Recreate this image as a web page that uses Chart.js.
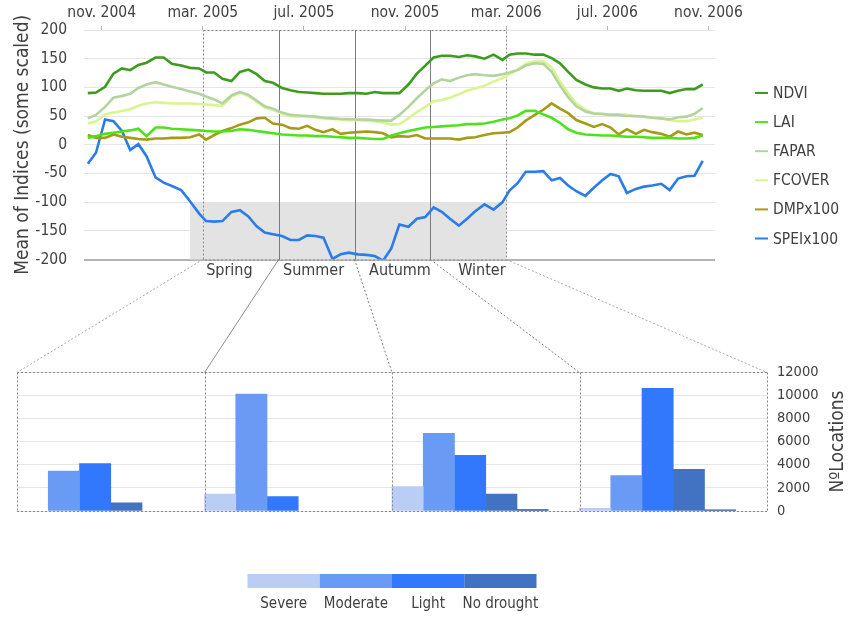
<!DOCTYPE html>
<html>
<head>
<meta charset="utf-8">
<script src="https://cdn.jsdelivr.net/npm/chart.js@4.4.1/dist/chart.umd.min.js"></script>
<style>
  html, body { margin: 0; padding: 0; background: #ffffff; }
  #wrap { position: relative; width: 861px; height: 619px; overflow: hidden; }
  #indices { position: absolute; left: 0; top: 0; }
  #locations { position: absolute; left: 0; top: 259px; }
</style>
</head>
<body>
<div id="wrap">
  <canvas id="indices" width="861" height="290"></canvas>
  <canvas id="locations" width="861" height="360"></canvas>
</div>
<script>
// ---------- data ----------
const FONT = "'DejaVu Sans Condensed', 'DejaVu Sans', sans-serif";

// Dekadal observations (5th, 15th and 25th of each month), Oct 2004 - Oct 2006
const dekadDates = [];
for (let y = 2004, m = 10; y < 2006 || (y === 2006 && m <= 10); m === 12 ? (y++, m = 1) : m++) {
  for (const d of [5, 15, 25]) {
    if (y === 2004 && m === 10 && d === 5) continue;
    dekadDates.push([y, m, d]);
  }
}
// months elapsed since 1 Nov 2004
function monthOffset(y, m, d) {
  const days = new Date(y, m, 0).getDate();
  return (y - 2004) * 12 + (m - 11) + (d - 1) / days;
}
const xMonths = dekadDates.map(([y, m, d]) => monthOffset(y, m, d));

const ndvi = [90, 91, 101, 124, 133, 130, 139, 143, 152, 152, 141, 138, 134, 133, 126, 126, 115, 111,
  127, 131, 123, 111, 108, 99, 95, 92, 91, 90, 89, 89, 89, 90, 90, 89, 92, 90,
  90, 90, 105, 124, 138, 152, 155, 155, 153, 156, 154, 150, 157, 148, 157, 159, 159, 157, 157, 151,
  142, 127, 113, 105, 100, 98, 98, 94, 98, 95, 94, 94, 94, 90, 94, 97, 97, 105];
const lai = [12, 15, 19, 21, 23, 25, 28, 15, 30, 30, 28, 27, 26, 25, 24, 23, 23, 24,
  27, 26, 24, 22, 20, 18, 17, 16, 16, 15, 15, 14, 13, 12, 12, 11, 10, 10,
  16, 20, 24, 27, 30, 31, 32, 33, 34, 36, 36, 37, 40, 44, 46, 51, 59, 59, 53, 47,
  38, 27, 21, 18, 17, 16, 16, 15, 14, 14, 13, 12, 12, 12, 11, 11, 12, 16];
const fapar = [46, 52, 66, 82, 85, 89, 99, 105, 109, 105, 101, 97, 93, 89, 84, 79, 72, 86,
  92, 87, 77, 67, 63, 56, 52, 51, 50, 49, 47, 46, 45, 45, 44, 44, 43, 42,
  42, 52, 66, 81, 95, 107, 114, 111, 117, 121, 123, 121, 120, 123, 126, 130, 138, 142, 141, 127,
  103, 83, 67, 58, 54, 54, 52, 52, 50, 50, 49, 47, 46, 44, 48, 49, 54, 64];
const fcover = [37, 41, 53, 56, 59, 62, 68, 72, 74, 73, 72, 72, 72, 71, 70, 69, 68, 84,
  91, 85, 75, 65, 61, 54, 50, 49, 49, 48, 46, 45, 44, 43, 43, 42, 41, 39,
  35, 36, 46, 57, 66, 76, 78, 82, 88, 94, 98, 103, 110, 116, 123, 131, 141, 146, 146, 135,
  110, 90, 72, 61, 55, 53, 53, 53, 52, 49, 49, 47, 46, 43, 41, 41, 44, 47];
const dmp = [17, 12, 12, 18, 14, 12, 10, 9, 11, 11, 12, 12, 13, 18, 9, 17, 24, 29,
  35, 39, 46, 47, 37, 35, 29, 28, 33, 26, 22, 27, 19, 21, 22, 23, 22, 20,
  13, 15, 14, 17, 11, 11, 11, 11, 9, 12, 13, 17, 20, 21, 22, 30, 42, 52, 61, 72,
  63, 55, 43, 37, 31, 36, 30, 18, 27, 19, 26, 22, 19, 14, 23, 18, 21, 17];
const spei = [-33, -14, 44, 41, 24, -9, 1, -20, -57, -66, -72, -79, -99, -120, -133, -134, -133, -117,
  -114, -125, -142, -153, -156, -159, -166, -166, -158, -159, -162, -199, -191, -188, -191, -192, -194, -202,
  -181, -139, -143, -129, -126, -109, -117, -129, -141, -129, -116, -104, -113, -100, -80, -67, -47, -47, -46, -62,
  -58, -71, -81, -89, -75, -62, -51, -55, -84, -77, -73, -71, -68, -79, -59, -55, -54, -28];

const seriesNames = ['NDVI', 'LAI', 'FAPAR', 'FCOVER', 'DMPx100', 'SPEIx100'];
const seriesValues = [ndvi, lai, fapar, fcover, dmp, spei];
const seriesColors = ['#3f9b1f', '#4fe21c', '#b3d39f', '#d9f58f', '#a69b16', '#2a7de8'];

const tickMonths = [0, 4, 8, 12, 16, 20, 24];
const tickLabels = ['nov. 2004', 'mar. 2005', 'jul. 2005', 'nov. 2005', 'mar. 2006', 'jul. 2006', 'nov. 2006'];

// Seasons of the drought year (month offsets: 1 Mar 2005 ... 1 Mar 2006)
const seasons = ['Spring', 'Summer', 'Autumm', 'Winter'];
const seasonBounds = [4, 7, 10, 13, 16];
// Drought band highlighted on the SPEI axis
const droughtBand = { from: 3.5, to: 16, top: -100, bottom: -200 };

// Number of locations per drought class and season (0 = no locations)
const droughtClasses = ['Severe', 'Moderate', 'Light', 'No drought'];
const severe    = [0,    1450,  2100, 230];
const moderate  = [3450, 10100, 6700, 3050];
const light     = [4100, 1250,  4800, 10600];
const noDrought = [700,  0,     1450, 3600];
const wet       = [0,    0,     120,  110];
const classColors = ['#b9cdf5', '#699bf5', '#3278fd', '#4272c2'];

// ---------- layout / style ----------
const SEASON_LABEL_POS = [0.35, 0.46, 0.6, 0.68];
const TEXT = '#404040';

// ---------- upper chart: indices ----------
const indicesDecor = {
  id: 'indicesDecor',
  beforeDatasetsDraw(chart) {
    const { ctx, chartArea: a, scales: { x, y } } = chart;
    ctx.save();
    // shaded drought band
    ctx.fillStyle = '#e3e3e3';
    const bx0 = x.getPixelForValue(droughtBand.from), bx1 = x.getPixelForValue(droughtBand.to);
    const by0 = y.getPixelForValue(droughtBand.top), by1 = y.getPixelForValue(droughtBand.bottom);
    ctx.fillRect(bx0, by0, bx1 - bx0, by1 - by0);
    // season separators
    ctx.strokeStyle = '#7a7a7a';
    ctx.lineWidth = 1;
    for (const b of seasonBounds.slice(1, -1)) {
      const px = Math.round(x.getPixelForValue(b)) + 0.5;
      ctx.beginPath(); ctx.moveTo(px, a.top); ctx.lineTo(px, a.bottom + 1); ctx.stroke();
    }
    // dotted frame around the drought year
    ctx.setLineDash([2, 2]);
    ctx.strokeStyle = '#8a8a8a';
    const fx0 = Math.round(x.getPixelForValue(seasonBounds[0])) + 0.5;
    const fx1 = Math.round(x.getPixelForValue(seasonBounds[seasonBounds.length - 1])) + 0.5;
    ctx.strokeRect(fx0, Math.round(a.top) + 0.5, fx1 - fx0, Math.round(a.bottom - a.top) - 0.5);
    ctx.restore();
  },
  afterDraw(chart) {
    const { ctx, chartArea: a, scales: { x } } = chart;
    ctx.save();
    ctx.font = '16px ' + FONT;
    ctx.fillStyle = TEXT;
    ctx.textAlign = 'center';
    ctx.textBaseline = 'middle';
    seasons.forEach((s, i) => {
      const x0 = x.getPixelForValue(seasonBounds[i]), x1 = x.getPixelForValue(seasonBounds[i + 1]);
      ctx.fillText(s, x0 + (x1 - x0) * SEASON_LABEL_POS[i], a.bottom + 11);
    });
    // legend
    ctx.font = '15.5px ' + FONT;
    ctx.textAlign = 'left';
    chart.data.datasets.forEach((ds, i) => {
      const ly = a.top + 63 + i * 29.1;
      ctx.strokeStyle = ds.borderColor;
      ctx.lineWidth = 2;
      ctx.beginPath(); ctx.moveTo(a.right + 40, ly); ctx.lineTo(a.right + 53, ly); ctx.stroke();
      ctx.fillStyle = TEXT;
      ctx.fillText(ds.label, a.right + 58, ly + 1);
    });
    ctx.restore();
  }
};

const indicesChart = new Chart(document.getElementById('indices'), {
  type: 'line',
  data: {
    datasets: seriesNames.map((name, k) => ({
      label: name,
      data: seriesValues[k].map((v, i) => ({ x: xMonths[i], y: v })),
      borderColor: seriesColors[k],
      borderWidth: 2.6,
      pointRadius: 0,
      tension: 0,
      fill: false
    }))
  },
  options: {
    responsive: false,
    animation: false,
    layout: { padding: { right: 146, bottom: 30.5 } },
    plugins: { legend: { display: false }, tooltip: { enabled: false } },
    scales: {
      x: {
        type: 'linear',
        position: 'top',
        min: -0.70,
        max: 24.26,
        afterBuildTicks: s => { s.ticks = tickMonths.map(v => ({ value: v })); },
        afterFit: s => { s.height = 30; },
        ticks: {
          autoSkip: false, maxRotation: 0, padding: 4,
          callback: v => tickLabels[tickMonths.indexOf(v)],
          font: { family: FONT, size: 15.5 }, color: TEXT
        },
        grid: { drawOnChartArea: false, drawTicks: true, tickLength: 4, color: '#b5b5b5' },
        border: { display: false }
      },
      y: {
        min: -200,
        max: 200,
        afterFit: s => { s.width = 84; },
        ticks: { stepSize: 50, padding: 17, font: { family: FONT, size: 15.5 }, color: TEXT },
        grid: {
          drawTicks: false,
          color: c => c.tick.value === -200 ? '#b3b3b3' : '#e4e4e4',
          lineWidth: c => c.tick.value === -200 ? 2 : 1
        },
        border: { display: false },
        title: {
          display: true, text: 'Mean of Indices (some scaled)',
          font: { family: FONT, size: 19 }, color: TEXT, padding: { top: 12, bottom: 0 }
        }
      }
    }
  },
  plugins: [indicesDecor]
});

// ---------- lower chart: locations per drought class ----------
const locationsDecor = {
  id: 'locationsDecor',
  afterDraw(chart) {
    const { ctx, chartArea: a, scales: { x, y } } = chart;
    const step = x.getPixelForValue(1) - x.getPixelForValue(0);
    const edges = [];
    for (let i = 0; i <= seasons.length; i++) edges.push(x.getPixelForValue(0) - step / 2 + i * step);
    const yTop = Math.round(y.getPixelForValue(12000)) + 0.5;
    const yBot = Math.round(y.getPixelForValue(0)) + 0.5;
    ctx.save();
    // dotted panels, one per season
    ctx.setLineDash([2, 2]);
    ctx.strokeStyle = '#858585';
    ctx.lineWidth = 1;
    ctx.beginPath();
    ctx.moveTo(edges[0], yTop); ctx.lineTo(edges[edges.length - 1], yTop);
    ctx.moveTo(edges[0], yBot); ctx.lineTo(edges[edges.length - 1], yBot);
    edges.forEach(e => { const ex = Math.round(e) + 0.5; ctx.moveTo(ex, yTop); ctx.lineTo(ex, yBot); });
    ctx.stroke();

    // links from the season frame above down to the panels
    const offset = chart.canvas.offsetTop - indicesChart.canvas.offsetTop;
    const up = indicesChart.scales.x;
    const upY = indicesChart.chartArea.bottom - offset;
    const linkStyles = [
      { dash: [2, 2], color: '#a8a8a8' },
      { dash: [], color: '#8c8c8c' },
      { dash: [2, 2], color: '#808080' },
      { dash: [2, 2], color: '#808080' },
      { dash: [2, 2], color: '#a8a8a8' }
    ];
    seasonBounds.forEach((b, i) => {
      ctx.setLineDash(linkStyles[i].dash);
      ctx.strokeStyle = linkStyles[i].color;
      ctx.beginPath();
      ctx.moveTo(up.getPixelForValue(b), upY);
      ctx.lineTo(edges[i], yTop);
      ctx.stroke();
    });
    ctx.setLineDash([]);

    // colour-bar legend
    const lw = 289, lx = (a.left + a.right) / 2 - lw / 2, seg = lw / droughtClasses.length;
    ctx.font = '15px ' + FONT;
    ctx.textAlign = 'center';
    ctx.textBaseline = 'middle';
    droughtClasses.forEach((c, i) => {
      ctx.fillStyle = classColors[i];
      ctx.fillRect(lx + i * seg, a.bottom + 63, seg, 14);
      ctx.fillStyle = TEXT;
      ctx.fillText(c, lx + i * seg + seg / 2, a.bottom + 93);
    });

    // axis title on the right, reading upwards
    ctx.translate(a.right + 71, (a.top + a.bottom) / 2);
    ctx.rotate(-Math.PI / 2);
    ctx.font = '19px ' + FONT;
    ctx.fillText('NºLocations', 0, 0);
    ctx.restore();
  }
};

const classValues = [severe, moderate, light, noDrought, wet];
const barColors = [...classColors, '#2e5596'];
const barLabels = [...droughtClasses, 'Wet'];

new Chart(document.getElementById('locations'), {
  type: 'bar',
  data: {
    labels: seasons,
    datasets: [
      ...classValues.map((vals, k) => ({
        label: barLabels[k],
        data: vals.map(v => (v > 0 ? v : null)),
        backgroundColor: barColors[k],
        borderWidth: 0
      })),
      // empty slot that keeps each group flush with the left edge of its panel
      { label: '', data: [null, null, null, null], backgroundColor: 'rgba(0,0,0,0)' }
    ]
  },
  options: {
    responsive: false,
    animation: false,
    layout: { padding: { left: 17, top: 113, bottom: 108 } },
    datasets: { bar: { categoryPercentage: 1, barPercentage: 1 } },
    plugins: { legend: { display: false }, tooltip: { enabled: false } },
    scales: {
      x: { display: false },
      y: {
        position: 'right',
        min: 0,
        max: 12000,
        afterFit: s => { s.width = 94; },
        ticks: {
          stepSize: 2000, padding: 10, callback: v => String(v),
          font: { family: FONT, size: 14.5 }, color: TEXT
        },
        grid: { drawTicks: false, color: '#e6e6e6' },
        border: { display: false }
      }
    }
  },
  plugins: [locationsDecor]
});
</script>
</body>
</html>
